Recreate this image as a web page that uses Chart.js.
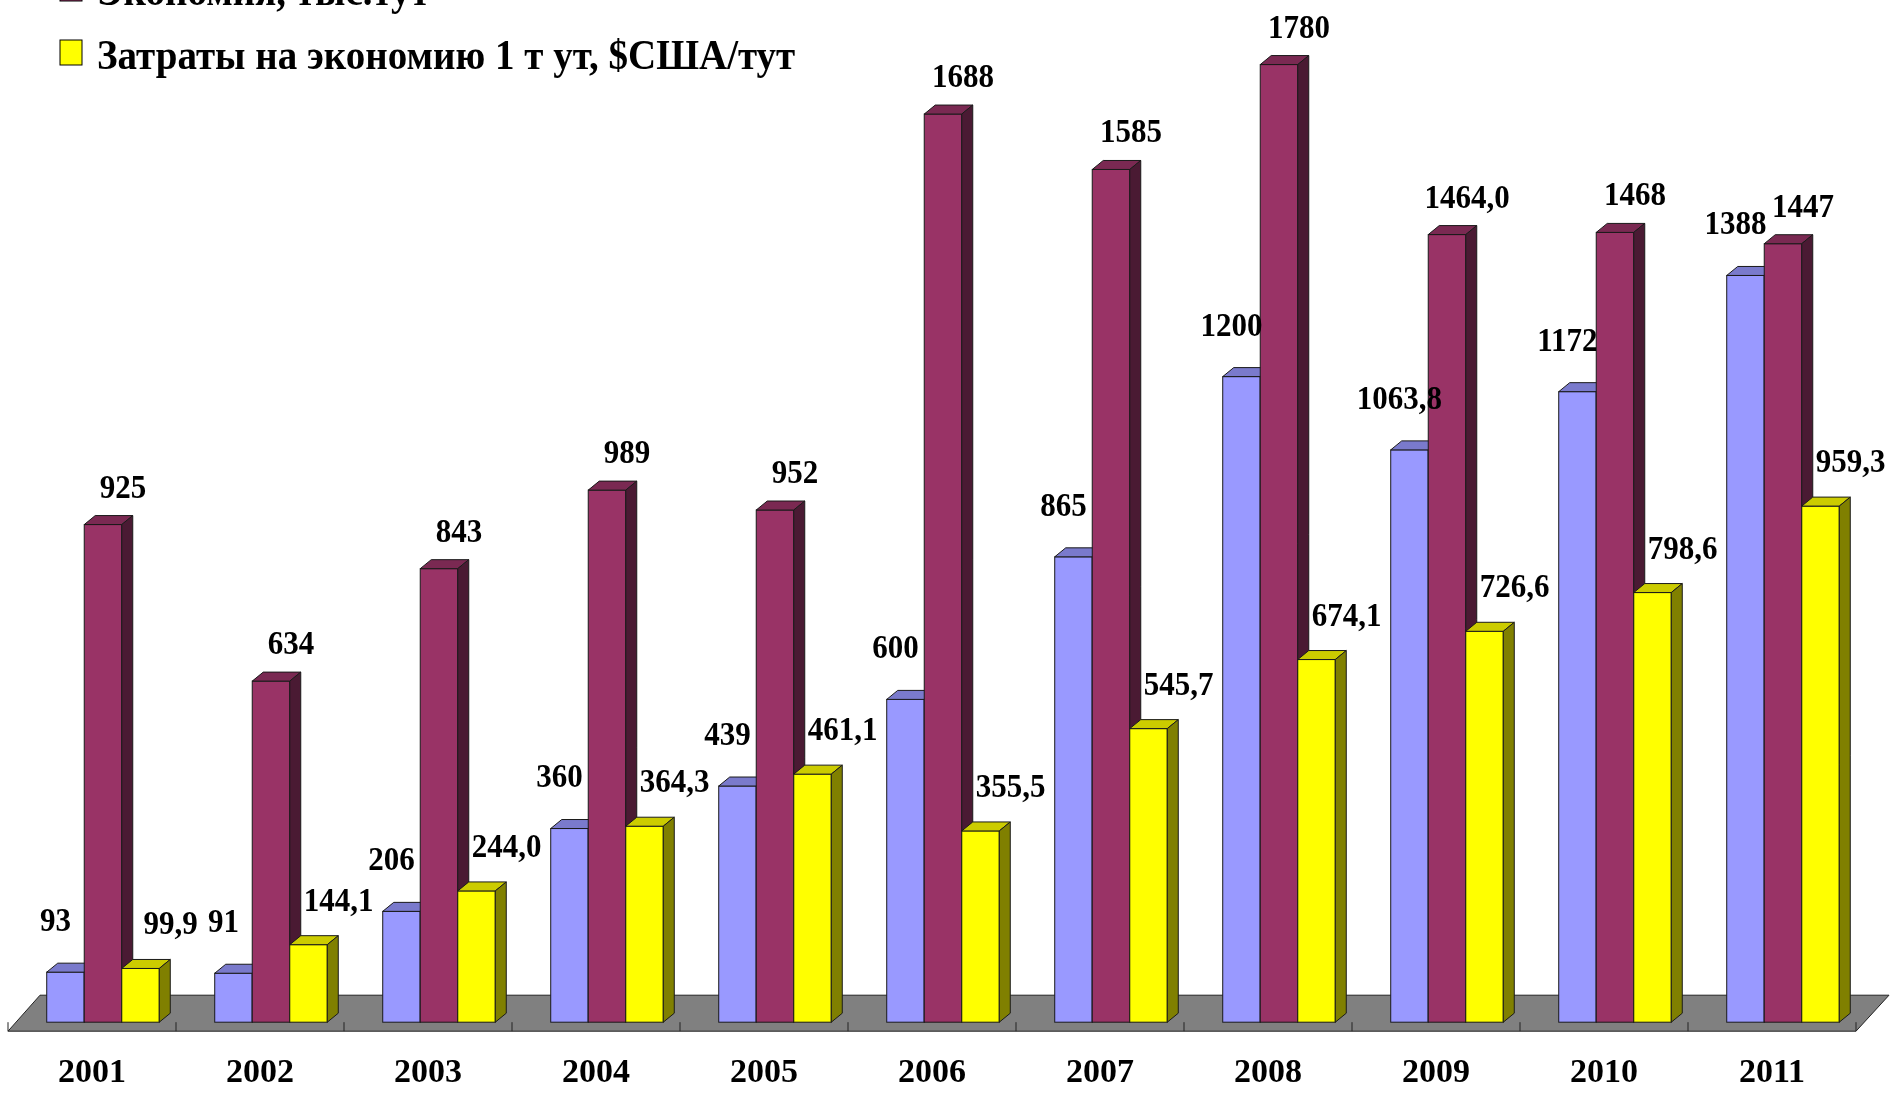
<!DOCTYPE html>
<html>
<head>
<meta charset="utf-8">
<script src="https://cdn.jsdelivr.net/npm/chart.js@4.4.0/dist/chart.umd.min.js"></script>
<style>
  html, body { margin: 0; padding: 0; background: #fff; }
  #wrap { width: 1893px; height: 1095px; }
</style>
</head>
<body>
<div id="wrap"><canvas id="chart"></canvas></div>
<script>
const years = ['2001', '2002', '2003', '2004', '2005', '2006', '2007', '2008', '2009', '2010', '2011'];
// values as printed on the chart (comma decimals)
const costText = ['93', '91', '206', '360', '439', '600', '865', '1200', '1063,8', '1172', '1388'];
const savingText = ['925', '634', '843', '989', '952', '1688', '1585', '1780', '1464,0', '1468', '1447'];
const unitCostText = ['99,9', '144,1', '244,0', '364,3', '461,1', '355,5', '545,7', '674,1', '726,6', '798,6', '959,3'];

const toNum = s => parseFloat(s.replace(',', '.'));

const serif = "'Liberation Serif', 'Times New Roman', serif";
const depthX = 11, depthY = 9;
const shiftX = 11; // bars sit a bit right of the tick, like the 3d view

// floor + 3d faces, drawn group by group so the overlap looks right
const bar3d = {
    id: 'bar3d',
    beforeDatasetsDraw(chart) {
        const ctx = chart.ctx;
        const area = chart.chartArea;
        const xs = chart.scales.x;
        const step = xs.getPixelForTick(1) - xs.getPixelForTick(0);
        const left = xs.getPixelForTick(0) - step / 2;
        const right = xs.getPixelForTick(years.length - 1) + step / 2;
        const front = area.bottom + 9, back = area.bottom - 27;
        ctx.save();
        ctx.fillStyle = '#808080';
        ctx.strokeStyle = '#222';
        ctx.lineWidth = 1;
        ctx.beginPath();
        ctx.moveTo(left, front);
        ctx.lineTo(left + 32, back);
        ctx.lineTo(right + 33, back);
        ctx.lineTo(right, front);
        ctx.closePath();
        ctx.fill();
        ctx.stroke();
        ctx.beginPath();
        for (let i = 0; i <= years.length; i++) {
            const bx = left + i * step;
            ctx.moveTo(bx, area.bottom);
            ctx.lineTo(bx, front);
        }
        ctx.stroke();
        ctx.restore();
    },
    afterDatasetsDraw(chart) {
        const ctx = chart.ctx;
        ctx.save();
        ctx.lineWidth = 1;
        ctx.strokeStyle = '#1a1a1a';
        for (let j = 0; j < years.length; j++) {
            chart.data.datasets.forEach((ds, i) => {
                const bar = chart.getDatasetMeta(i).data[j];
                const p = bar.getProps(['x', 'y', 'base', 'width'], true);
                const l = p.x - p.width / 2 + shiftX, r = p.x + p.width / 2 + shiftX;
                // front
                ctx.fillStyle = ds.frontColor;
                ctx.fillRect(l, p.y, p.width, p.base - p.y);
                ctx.strokeRect(l, p.y, p.width, p.base - p.y);
                // top
                ctx.fillStyle = ds.topColor;
                ctx.beginPath();
                ctx.moveTo(l, p.y);
                ctx.lineTo(l + depthX, p.y - depthY);
                ctx.lineTo(r + depthX, p.y - depthY);
                ctx.lineTo(r, p.y);
                ctx.closePath();
                ctx.fill();
                ctx.stroke();
                // side
                ctx.fillStyle = ds.sideColor;
                ctx.beginPath();
                ctx.moveTo(r, p.y);
                ctx.lineTo(r + depthX, p.y - depthY);
                ctx.lineTo(r + depthX, p.base - depthY);
                ctx.lineTo(r, p.base);
                ctx.closePath();
                ctx.fill();
                ctx.stroke();
            });
        }
        ctx.restore();
    },
    afterDraw(chart) {
        const ctx = chart.ctx;
        ctx.save();
        ctx.fillStyle = '#000';
        ctx.textAlign = 'center';
        ctx.textBaseline = 'middle';
        ctx.font = 'bold 31px ' + serif;
        chart.data.datasets.forEach((ds, i) => {
            chart.getDatasetMeta(i).data.forEach((bar, j) => {
                ctx.save();
                ctx.translate(bar.x + shiftX + ds.labelDx, bar.y + ds.labelDy);
                ctx.scale(1, 1.12);
                ctx.fillText(ds.texts[j], 0, 0);
                ctx.restore();
            });
        });

        // legend, last entry at the bottom, older ones run off the top
        ctx.textAlign = 'left';
        ctx.textBaseline = 'alphabetic';
        ctx.font = 'bold 39px ' + serif;
        const dsets = chart.data.datasets;
        for (let k = 0; k < dsets.length; k++) {
            const base = 69 - (dsets.length - 1 - k) * 64;
            ctx.fillStyle = dsets[k].frontColor;
            ctx.fillRect(60, base - 29, 22, 25);
            ctx.strokeStyle = '#000';
            ctx.strokeRect(60, base - 29, 22, 25);
            ctx.fillStyle = '#000';
            ctx.save();
            ctx.translate(97, base);
            ctx.scale(1, 1.1);
            ctx.fillText(dsets[k].label, 0, 0);
            ctx.restore();
        }
        ctx.restore();
    }
};

// flat bars from the library stay invisible, the plugin paints them in 3d
const hidden = { backgroundColor: 'rgba(0,0,0,0)', borderColor: 'rgba(0,0,0,0)', borderWidth: 0 };

new Chart(document.getElementById('chart'), {
    type: 'bar',
    data: {
        labels: years,
        datasets: [
            {
                ...hidden,
                label: 'Затраты, млн $США',
                data: costText.map(toNum),
                texts: costText,
                frontColor: '#9999FF',
                topColor: '#7a7acc',
                sideColor: '#4d4d80',
                labelDx: -10,
                labelDy: -50,
            },
            {
                ...hidden,
                label: 'Экономия, тыс.тут',
                data: savingText.map(toNum),
                texts: savingText,
                frontColor: '#993366',
                topColor: '#7a2952',
                sideColor: '#4a1a33',
                labelDx: 20,
                labelDy: -36,
            },
            {
                ...hidden,
                label: 'Затраты на экономию 1 т ут, $США/тут',
                data: unitCostText.map(toNum),
                texts: unitCostText,
                frontColor: '#FFFF00',
                topColor: '#cccc00',
                sideColor: '#808000',
                labelDx: 30,
                labelDy: -43,
            },
        ]
    },
    options: {
        responsive: true,
        maintainAspectRatio: false,
        animation: false,
        layout: { padding: { left: 8, right: 37, top: 0, bottom: -22 } },
        datasets: {
            bar: { categoryPercentage: 0.67, barPercentage: 1.0 }
        },
        plugins: {
            colors: { enabled: false },
            legend: { display: false },
            tooltip: { enabled: false },
        },
        scales: {
            y: { display: false, min: 0, max: 1900 },
            x: {
                grid: { display: false },
                border: { display: false },
                ticks: {
                    color: '#000',
                    padding: 23,
                    font: { family: serif, size: 34, weight: 'bold' }
                }
            }
        }
    },
    plugins: [bar3d]
});
</script>
</body>
</html>
